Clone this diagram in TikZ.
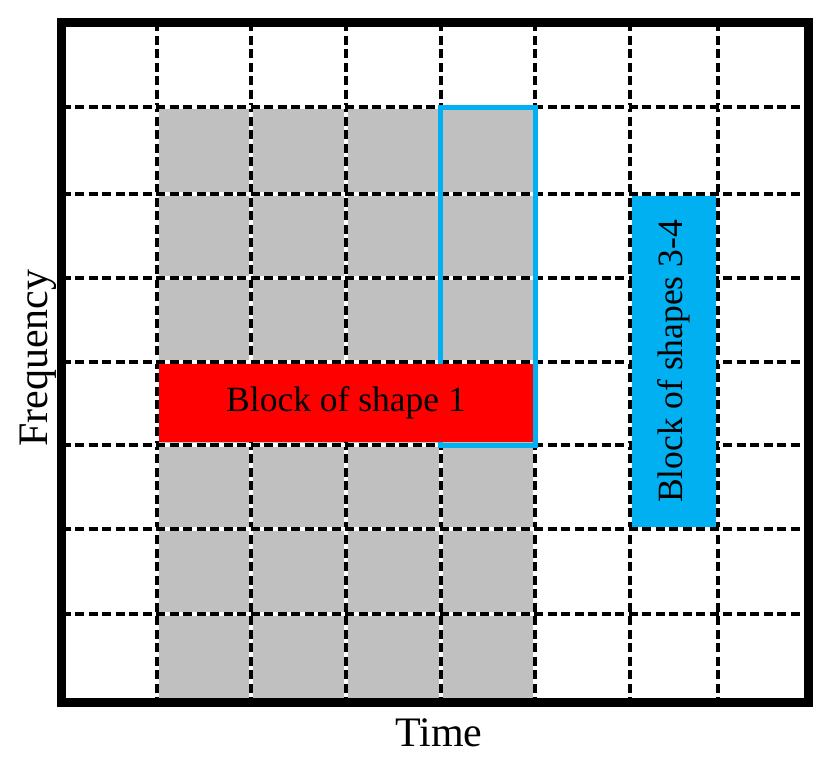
\documentclass[tikz,border=0pt]{standalone}
\usepackage{fontspec}
\setmainfont{Liberation Serif}
\definecolor{cellgray}{RGB}{192,192,192}
\definecolor{shapeblue}{RGB}{0,176,240}
\definecolor{shapered}{RGB}{255,0,0}
\tikzset{
  gridwhite/.style={white, line width=4pt},
  griddash/.style={black, line width=4pt, dash pattern=on 9pt off 4.5pt},
  blocklabel/.style={inner sep=0pt, font=\fontsize{35.5}{40}\selectfont, text=black},
  axislabel/.style={inner sep=0pt, font=\fontsize{42}{48}\selectfont},
}
\begin{document}
\begin{tikzpicture}[x=1pt,y=-1pt]
\useasboundingbox (0,0) rectangle (830,763);
% gray used cells
\fill[cellgray] (157,107) rectangle (535,702);
% grid
\foreach \gx in {157,251,346,441,535,630,718}{
  \draw[gridwhite] (\gx,22) -- (\gx,702);
  \draw[griddash] (\gx,22) -- (\gx,702);
}
\foreach \gy in {107,194,278,362,445,529,614}{
  \draw[gridwhite] (61.5,\gy) -- (808,\gy);
  \draw[griddash] (61.5,\gy) -- (808,\gy);
}
% block of shapes 3-4 (inside its grid lines)
\node[blocklabel, rotate=90, fill=shapeblue, minimum width=331pt, minimum height=84pt] (b34) at (674,361.5) {Block of shapes 3-4};
% blue outline
\draw[shapeblue, line width=5pt] (440,107) rectangle (535.5,445);
% block of shape 1
\node[blocklabel, fill=shapered, minimum width=374pt, minimum height=78pt] (b1) at (346,403) {Block of shape 1};
% frame
\draw[line width=9pt] (61.5,22) rectangle (808,702);
% axis labels
\node[axislabel, anchor=base] (time) at (439,746) {Time};
\node[axislabel, anchor=base, rotate=90] (freq) at (47,358) {Frequency};
\end{tikzpicture}
\end{document}
